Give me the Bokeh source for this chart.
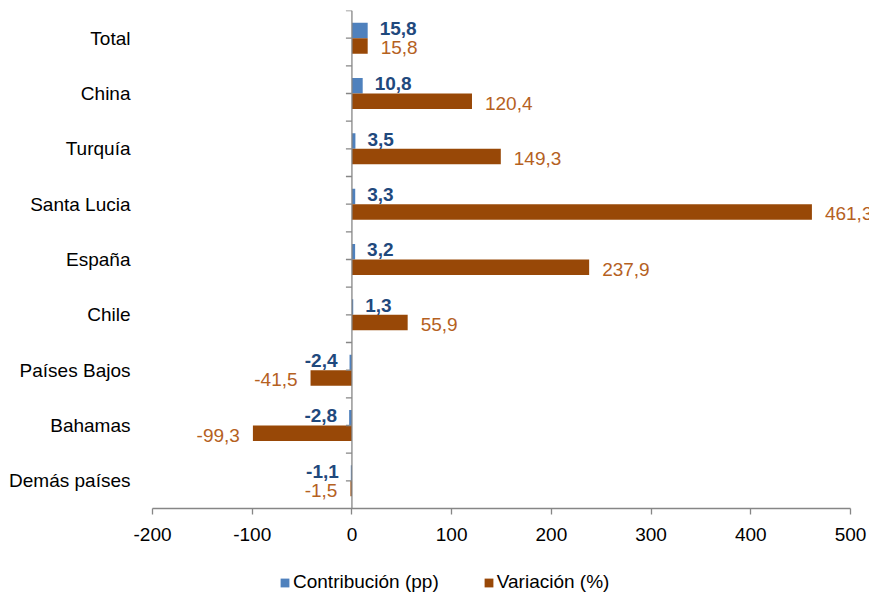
from bokeh.plotting import figure
from bokeh.layouts import column
from bokeh.models import (ColumnDataSource, FactorRange, Range1d, Span, Legend, LegendItem,
                          LabelSet, Label, FixedTicker)
from bokeh.core.properties import value
from bokeh.transform import dodge
from bokeh.embed import file_html
from bokeh.resources import INLINE
import math

categories = ["Total", "China", "Turquía", "Santa Lucia", "España", "Chile",
              "Países Bajos", "Bahamas", "Demás países"]
contribucion = [15.8, 10.8, 3.5, 3.3, 3.2, 1.3, -2.4, -2.8, -1.1]
variacion = [15.8, 120.4, 149.3, 461.3, 237.9, 55.9, -41.5, -99.3, -1.5]
x_ticks = [-200, -100, 0, 100, 200, 300, 400, 500]
series_names = ["Contribución (pp)", "Variación (%)"]
source_note = "DIAN - DANE"

BLUE = "#4F81BD"
BROWN = "#984807"
BLUE_TXT = "#1F497D"
BROWN_TXT = "#B5611F"
GRAY = "#868686"
FONT = "Liberation Sans"


def fmt(v):
    return f"{v:.1f}".replace(".", ",")


src = ColumnDataSource(dict(
    cat=categories,
    contrib=contribucion,
    var=variacion,
    contrib_lbl=[fmt(v) for v in contribucion],
    var_lbl=[fmt(v) for v in variacion],
    contrib_off=[12 if v >= 0 else -12 for v in contribucion],
    var_off=[13 if v >= 0 else -13 for v in variacion],
    contrib_al=["left" if v >= 0 else "right" for v in contribucion],
    var_al=["left" if v >= 0 else "right" for v in variacion],
))

# frame: 698 px for -200..500, plus room at right so the last label is not clipped
px_per_unit = 698 / (x_ticks[-1] - x_ticks[0])
extra_px = 19
p = figure(frame_width=698 + extra_px, frame_height=498, output_backend="svg",
           toolbar_location=None,
           y_range=FactorRange(factors=list(reversed(categories))),
           x_range=Range1d(x_ticks[0], x_ticks[-1] + extra_px / px_per_unit),
           min_border_left=152, min_border_right=0, min_border_top=10, min_border_bottom=48)
p.outline_line_color = None
p.grid.grid_line_color = None
p.background_fill_color = "white"

bw = 0.28
p.hbar(y=dodge("cat", bw / 2, range=p.y_range), left=0, right="contrib", height=bw,
       source=src, fill_color=BLUE, line_color=None)
p.hbar(y=dodge("cat", -bw / 2, range=p.y_range), left=0, right="var", height=bw,
       source=src, fill_color=BROWN, line_color=None)

# vertical axis line at zero with tick marks
p.add_layout(Span(location=0, dimension="height", line_color=GRAY, line_width=1.3))
p.ray(x=0, y=dodge("cat", 0.5, range=p.y_range), length=6, length_units="screen",
      angle=math.pi, source=src, line_color=GRAY, line_width=1.3)
p.ray(x=0, y="cat", length=6, length_units="screen",
      angle=math.pi, source=src, line_color=GRAY, line_width=1.3)

p.add_layout(LabelSet(x="contrib", y=dodge("cat", bw / 2, range=p.y_range), text="contrib_lbl",
                      source=src, x_offset="contrib_off", y_offset=2, text_align="contrib_al",
                      text_baseline="middle", text_color=BLUE_TXT, text_font_style="bold",
                      text_font_size="19px", text_font=value(FONT)))
p.add_layout(LabelSet(x="var", y=dodge("cat", -bw / 2, range=p.y_range), text="var_lbl",
                      source=src, x_offset="var_off", y_offset=-2, text_align="var_al",
                      text_baseline="middle", text_color=BROWN_TXT,
                      text_font_size="19px", text_font=value(FONT)))

# axes
xa = p.xaxis[0]
xa.ticker = FixedTicker(ticks=x_ticks)
xa.bounds = (x_ticks[0], x_ticks[-1])
xa.major_label_overrides = {t: str(t) for t in x_ticks}
xa.axis_line_color = GRAY
xa.axis_line_width = 1.3
xa.major_tick_line_color = GRAY
xa.major_tick_line_width = 1.3
xa.major_tick_out = 6
xa.major_tick_in = 0
xa.minor_tick_line_color = None
xa.major_label_text_font = FONT
xa.major_label_text_font_size = "19px"
xa.major_label_text_color = "black"
xa.major_label_standoff = 13

ya = p.yaxis[0]
ya.axis_line_color = None
ya.major_tick_line_color = None
ya.minor_tick_line_color = None
ya.major_label_text_font = FONT
ya.major_label_text_font_size = "19px"
ya.major_label_text_color = "black"
ya.major_label_standoff = 16

# legend strip below the chart
main_h = 10 + 498 + 48
p2 = figure(width=152 + 698 + extra_px, height=600 - main_h, output_backend="svg",
            toolbar_location=None, x_range=Range1d(0, 1), y_range=Range1d(0, 1),
            x_axis_type=None, y_axis_type=None, min_border=0)
p2.grid.grid_line_color = None
p2.outline_line_color = None
try:
    p2.frame_align = False
    frame_off = 0
except Exception:
    frame_off = 152
hidden = ColumnDataSource(dict(y=[-10], r=[-10]))
lb = p2.hbar(y="y", right="r", height=0.1, source=hidden, fill_color=BLUE, line_color=None)
lo = p2.hbar(y="y", right="r", height=0.1, source=hidden, fill_color=BROWN, line_color=None)
legend = Legend(items=[LegendItem(label=series_names[0], renderers=[lb]),
                       LegendItem(label=series_names[1], renderers=[lo])],
                orientation="horizontal", location=(279 - frame_off, 7),
                label_text_font=FONT, label_text_font_size="19px", label_text_color="black",
                glyph_width=11, glyph_height=11, label_standoff=3, spacing=44,
                border_line_color=None, background_fill_alpha=0,
                margin=0, padding=4)
p2.add_layout(legend)
p2.add_layout(Label(x=72 - frame_off, y=2, x_units="screen", y_units="screen", text=source_note,
                    text_baseline="top", text_font=FONT, text_font_size="19px",
                    text_color="#595959"))

open("out.html", "w").write(file_html(column(p, p2), INLINE))
